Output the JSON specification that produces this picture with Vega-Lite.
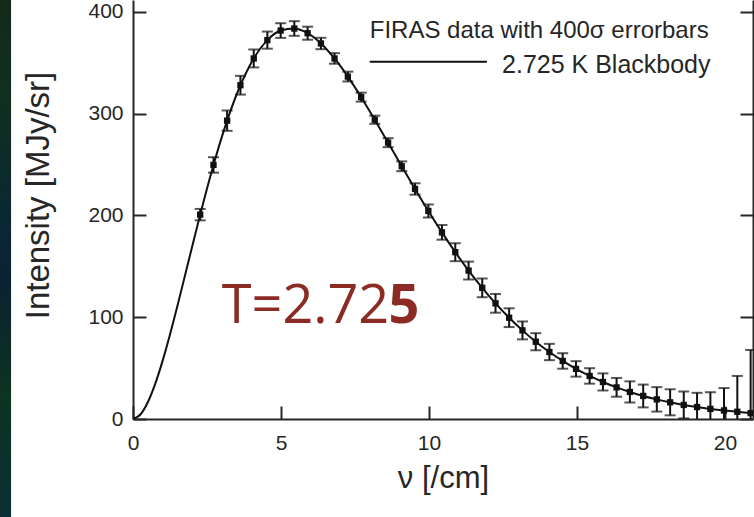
{
  "$schema": "https://vega.github.io/schema/vega-lite/v6.json",
  "width": 620,
  "height": 419,
  "autosize": {"type": "none"},
  "padding": {"left": 133, "top": 0, "right": 1, "bottom": 98},
  "background": "#ffffff",
  "config": {
    "view": {"stroke": null},
    "axis": {
      "domainColor": "#262626", "domainWidth": 2,
      "tickColor": "#262626", "tickWidth": 2, "tickSize": -13,
      "grid": false, "labelFlush": false,
      "labelFont": "Liberation Sans", "labelFontSize": 21, "labelColor": "#262626",
      "titleFont": "Liberation Sans", "titleColor": "#262626", "titleFontWeight": "normal"
    }
  },
  "datasets": {
    "one": [{"k": 1}],
    "firas": [
      {"nu": 2.27, "I": 200.72, "lo": 195.1, "hi": 206.3},
      {"nu": 2.72, "I": 249.51, "lo": 241.9, "hi": 257.1},
      {"nu": 3.18, "I": 293.02, "lo": 283.0, "hi": 303.0},
      {"nu": 3.63, "I": 327.77, "lo": 318.6, "hi": 337.0},
      {"nu": 4.08, "I": 354.08, "lo": 345.3, "hi": 362.9},
      {"nu": 4.54, "I": 372.08, "lo": 363.7, "hi": 380.5},
      {"nu": 4.99, "I": 381.49, "lo": 374.3, "hi": 388.7},
      {"nu": 5.45, "I": 383.48, "lo": 376.3, "hi": 390.7},
      {"nu": 5.90, "I": 378.90, "lo": 372.5, "hi": 385.3},
      {"nu": 6.35, "I": 368.83, "lo": 363.2, "hi": 374.4},
      {"nu": 6.81, "I": 354.06, "lo": 348.9, "hi": 359.3},
      {"nu": 7.26, "I": 336.28, "lo": 331.5, "hi": 341.1},
      {"nu": 7.71, "I": 316.08, "lo": 311.7, "hi": 320.5},
      {"nu": 8.17, "I": 293.92, "lo": 289.9, "hi": 297.9},
      {"nu": 8.62, "I": 271.43, "lo": 267.0, "hi": 275.8},
      {"nu": 9.08, "I": 248.24, "lo": 243.4, "hi": 253.0},
      {"nu": 9.53, "I": 225.94, "lo": 220.3, "hi": 231.5},
      {"nu": 9.98, "I": 204.33, "lo": 197.9, "hi": 210.7},
      {"nu": 10.44, "I": 183.26, "lo": 176.1, "hi": 190.5},
      {"nu": 10.89, "I": 163.83, "lo": 155.0, "hi": 172.6},
      {"nu": 11.34, "I": 145.75, "lo": 137.0, "hi": 154.6},
      {"nu": 11.80, "I": 128.84, "lo": 119.6, "hi": 138.0},
      {"nu": 12.25, "I": 113.57, "lo": 104.4, "hi": 122.8},
      {"nu": 12.71, "I": 99.45, "lo": 90.3, "hi": 108.7},
      {"nu": 13.16, "I": 87.04, "lo": 78.2, "hi": 95.8},
      {"nu": 13.61, "I": 75.88, "lo": 67.5, "hi": 84.3},
      {"nu": 14.07, "I": 65.77, "lo": 57.8, "hi": 73.8},
      {"nu": 14.52, "I": 57.01, "lo": 49.4, "hi": 64.6},
      {"nu": 14.97, "I": 49.22, "lo": 41.6, "hi": 56.8},
      {"nu": 15.43, "I": 42.27, "lo": 34.7, "hi": 49.9},
      {"nu": 15.88, "I": 36.35, "lo": 28.0, "hi": 44.8},
      {"nu": 16.34, "I": 31.06, "lo": 21.9, "hi": 40.3},
      {"nu": 16.79, "I": 26.58, "lo": 16.2, "hi": 37.0},
      {"nu": 17.24, "I": 22.64, "lo": 11.4, "hi": 33.8},
      {"nu": 17.70, "I": 19.26, "lo": 7.3, "hi": 31.3},
      {"nu": 18.15, "I": 16.39, "lo": 3.6, "hi": 29.2},
      {"nu": 18.61, "I": 13.81, "lo": 0.6, "hi": 27.0},
      {"nu": 19.06, "I": 11.72, "lo": -2.3, "hi": 25.7},
      {"nu": 19.51, "I": 9.92, "lo": -6.5, "hi": 26.3},
      {"nu": 19.97, "I": 8.36, "lo": -13.6, "hi": 30.4},
      {"nu": 20.42, "I": 7.09, "lo": -28.1, "hi": 42.3},
      {"nu": 20.87, "I": 5.80, "lo": -56.2, "hi": 67.8}
    ],
    "bb": [
      {"nu": 0, "I": 0},
      {"nu": 0.25, "I": 4.40},
      {"nu": 0.5, "I": 16.44},
      {"nu": 0.75, "I": 34.50},
      {"nu": 1.0, "I": 57.12},
      {"nu": 1.25, "I": 83.0},
      {"nu": 1.5, "I": 111.0},
      {"nu": 1.75, "I": 140.1},
      {"nu": 2.0, "I": 169.5},
      {"nu": 2.27, "I": 200.72},
      {"nu": 2.72, "I": 249.51},
      {"nu": 3.18, "I": 293.02},
      {"nu": 3.63, "I": 327.77},
      {"nu": 4.08, "I": 354.08},
      {"nu": 4.54, "I": 372.08},
      {"nu": 4.99, "I": 381.49},
      {"nu": 5.45, "I": 383.48},
      {"nu": 5.90, "I": 378.90},
      {"nu": 6.35, "I": 368.83},
      {"nu": 6.81, "I": 354.06},
      {"nu": 7.26, "I": 336.28},
      {"nu": 7.71, "I": 316.08},
      {"nu": 8.17, "I": 293.92},
      {"nu": 8.62, "I": 271.43},
      {"nu": 9.08, "I": 248.24},
      {"nu": 9.53, "I": 225.94},
      {"nu": 9.98, "I": 204.33},
      {"nu": 10.44, "I": 183.26},
      {"nu": 10.89, "I": 163.83},
      {"nu": 11.34, "I": 145.75},
      {"nu": 11.80, "I": 128.84},
      {"nu": 12.25, "I": 113.57},
      {"nu": 12.71, "I": 99.45},
      {"nu": 13.16, "I": 87.04},
      {"nu": 13.61, "I": 75.88},
      {"nu": 14.07, "I": 65.77},
      {"nu": 14.52, "I": 57.01},
      {"nu": 14.97, "I": 49.22},
      {"nu": 15.43, "I": 42.27},
      {"nu": 15.88, "I": 36.35},
      {"nu": 16.34, "I": 31.06},
      {"nu": 16.79, "I": 26.58},
      {"nu": 17.24, "I": 22.64},
      {"nu": 17.70, "I": 19.26},
      {"nu": 18.15, "I": 16.39},
      {"nu": 18.61, "I": 13.81},
      {"nu": 19.06, "I": 11.72},
      {"nu": 19.51, "I": 9.92},
      {"nu": 19.97, "I": 8.36},
      {"nu": 20.42, "I": 7.09},
      {"nu": 20.87, "I": 5.80},
      {"nu": 20.95, "I": 5.73}
    ]
  },
  "layer": [
    {
      "data": {"name": "one"},
      "mark": {
        "type": "rect",
        "fill": {
          "gradient": "linear", "x1": 0, "y1": 0, "x2": 0, "y2": 1,
          "stops": [
            {"offset": 0, "color": "#15281a"},
            {"offset": 0.2, "color": "#10301f"},
            {"offset": 0.45, "color": "#0a2733"},
            {"offset": 0.55, "color": "#0b2230"},
            {"offset": 0.75, "color": "#0d3322"},
            {"offset": 1, "color": "#0a2f36"}
          ]
        }
      },
      "encoding": {
        "x": {"datum": -4.7, "type": "quantitative", "scale": {"domain": [0, 20.95], "nice": false, "zero": false}},
        "x2": {"datum": -4.12},
        "y": {"datum": 430, "type": "quantitative", "scale": {"domain": [0, 411.5], "nice": false, "zero": false}, "axis": null},
        "y2": {"datum": -110}
      }
    },
    {
      "data": {"name": "bb"},
      "mark": {"type": "line", "color": "#111111", "strokeWidth": 2, "interpolate": "monotone", "clip": true},
      "encoding": {
        "x": {"field": "nu", "type": "quantitative", "scale": {"domain": [0, 20.95], "nice": false, "zero": false},
          "axis": {"values": [0, 5, 10, 15, 20], "title": "ν [/cm]", "titleFontSize": 31, "labelPadding": 26, "titlePadding": 10}},
        "y": {"field": "I", "type": "quantitative", "scale": {"domain": [0, 411.5], "nice": false, "zero": false},
          "axis": {"values": [0, 100, 200, 300, 400], "title": "Intensity [MJy/sr]", "titleFontSize": 33, "labelPadding": 23, "titlePadding": 32, "titleY": 195}}
      }
    },
    {
      "data": {"name": "firas"},
      "mark": {"type": "errorbar", "color": "#111111", "thickness": 2, "ticks": {"size": 11, "thickness": 2}, "clip": true},
      "encoding": {
        "x": {"field": "nu", "type": "quantitative", "scale": {"domain": [0, 20.95], "nice": false, "zero": false}},
        "y": {"field": "lo", "type": "quantitative", "scale": {"domain": [0, 411.5], "nice": false, "zero": false}, "axis": null},
        "y2": {"field": "hi"}
      }
    },
    {
      "data": {"name": "firas"},
      "mark": {"type": "point", "shape": "square", "filled": true, "size": 40, "color": "#111111", "opacity": 1, "clip": true},
      "encoding": {
        "x": {"field": "nu", "type": "quantitative", "scale": {"domain": [0, 20.95], "nice": false, "zero": false}},
        "y": {"field": "I", "type": "quantitative", "scale": {"domain": [0, 411.5], "nice": false, "zero": false},
          "axis": {"orient": "right", "values": [0, 100, 200, 300, 400], "labels": false, "title": null}}
      }
    },
    {
      "data": {"name": "one"},
      "mark": {"type": "text", "text": "FIRAS data with 400σ errorbars", "font": "Liberation Sans", "fontSize": 24, "align": "left", "baseline": "alphabetic", "color": "#262626"},
      "encoding": {
        "x": {"datum": 8.0, "type": "quantitative", "scale": {"domain": [0, 20.95], "nice": false, "zero": false}},
        "y": {"datum": 374.4, "type": "quantitative", "scale": {"domain": [0, 411.5], "nice": false, "zero": false}, "axis": null}
      }
    },
    {
      "data": {"name": "one"},
      "mark": {"type": "text", "text": "2.725 K Blackbody", "font": "Liberation Sans", "fontSize": 25, "align": "left", "baseline": "alphabetic", "color": "#262626"},
      "encoding": {
        "x": {"datum": 12.47, "type": "quantitative", "scale": {"domain": [0, 20.95], "nice": false, "zero": false}},
        "y": {"datum": 340.0, "type": "quantitative", "scale": {"domain": [0, 411.5], "nice": false, "zero": false}, "axis": null}
      }
    },
    {
      "data": {"name": "one"},
      "mark": {"type": "rule", "color": "#111111", "strokeWidth": 2},
      "encoding": {
        "x": {"datum": 8.0, "type": "quantitative", "scale": {"domain": [0, 20.95], "nice": false, "zero": false}},
        "x2": {"datum": 11.96},
        "y": {"datum": 350.9, "type": "quantitative", "scale": {"domain": [0, 411.5], "nice": false, "zero": false}, "axis": null}
      }
    },
    {
      "data": {"name": "one"},
      "mark": {"type": "text", "text": "T=2.72", "font": "Open Sans", "fontSize": 54, "align": "left", "baseline": "alphabetic", "color": "#8c2b24"},
      "encoding": {
        "x": {"datum": 3.0, "type": "quantitative", "scale": {"domain": [0, 20.95], "nice": false, "zero": false}},
        "y": {"datum": 94.3, "type": "quantitative", "scale": {"domain": [0, 411.5], "nice": false, "zero": false}, "axis": null}
      }
    },
    {
      "data": {"name": "one"},
      "mark": {"type": "text", "text": "5", "font": "Open Sans", "fontSize": 54, "fontWeight": "bold", "align": "left", "baseline": "alphabetic", "color": "#8c2b24"},
      "encoding": {
        "x": {"datum": 8.63, "type": "quantitative", "scale": {"domain": [0, 20.95], "nice": false, "zero": false}},
        "y": {"datum": 94.3, "type": "quantitative", "scale": {"domain": [0, 411.5], "nice": false, "zero": false}, "axis": null}
      }
    }
  ],
  "resolve": {"axis": {"y": "independent"}}
}
